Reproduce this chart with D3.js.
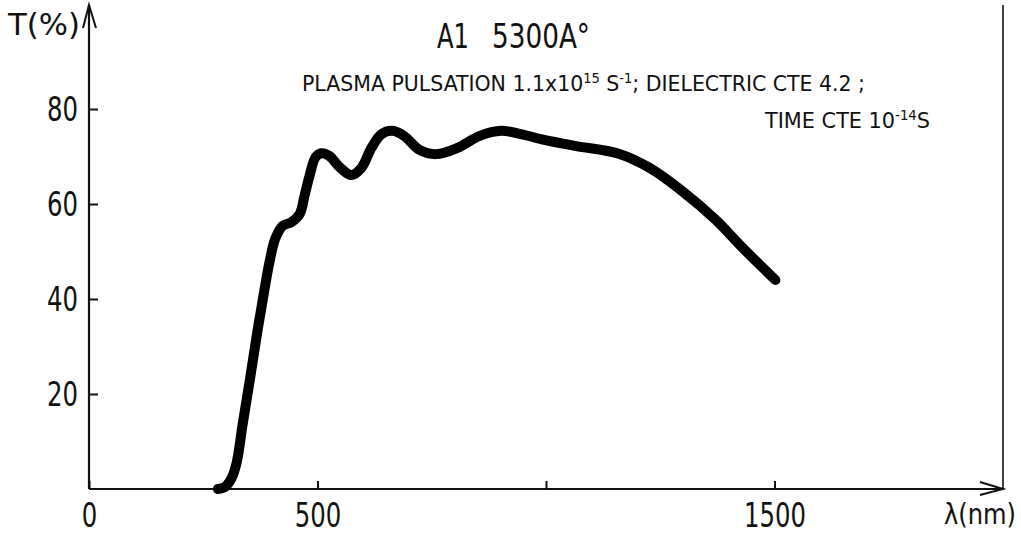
<!DOCTYPE html>
<html>
<head>
<meta charset="utf-8">
<script src="https://cdn.jsdelivr.net/npm/d3@7"></script>
<style>
  html, body { margin: 0; padding: 0; background: #fff; }
  svg { display: block; }
  text { font-family: "Liberation Sans Narrow", "DejaVu Sans Condensed", "Roboto", sans-serif; fill: #111; }
</style>
</head>
<body>
<svg id="chart" width="1021" height="534"></svg>
<script>
// ---- data ----
const wavelength = [282, 297, 312, 323, 336, 352, 369, 384, 395, 408, 424, 443, 461, 472, 483, 496, 509, 526, 548, 574, 596, 618, 640, 664, 690, 723, 760, 806, 854, 902, 945, 996, 1066, 1159, 1225, 1297, 1371, 1428, 1502];
const transmission = [0, 0.4, 2.3, 5.5, 13.5, 23, 33.5, 42, 47.8, 52.8, 55.4, 56.2, 57.9, 61.9, 66.1, 69.9, 70.7, 70.1, 67.8, 66.1, 67.6, 71.8, 74.7, 75.4, 74.3, 71.4, 70.5, 71.8, 74.3, 75.4, 74.7, 73.5, 72.2, 70.6, 67.7, 62.8, 56.7, 51.0, 44.0];
const xTickValues = [0, 500, 1000, 1500];
const xTickLabels = ["0", "500", "", "1500"];
const yTickValues = [20, 40, 60, 80];
const yTickLabels = ["20", "40", "60", "80"];
const titleText = ["A1", "5300A°"];

// ---- layout ----
const svg = d3.select("#chart");
const x = d3.scaleLinear().domain([0, 2000]).range([89, 1003]);
const y = d3.scaleLinear().domain([0, 100]).range([489, 14]);
const ink = "#111";
const digitW = 15.5;

// axes lines
svg.append("line").attr("x1", x(0)).attr("x2", x(2000)).attr("y1", y(0)).attr("y2", y(0))
  .attr("stroke", ink).attr("stroke-width", 2.2);
svg.append("line").attr("x1", x(0)).attr("x2", x(0)).attr("y1", y(0)).attr("y2", 5)
  .attr("stroke", ink).attr("stroke-width", 2.2);
// right frame line
svg.append("line").attr("x1", x(2000)).attr("x2", x(2000)).attr("y1", y(0) + 1).attr("y2", 5)
  .attr("stroke", ink).attr("stroke-width", 1.6);
// arrowheads
svg.append("path").attr("d", `M${x(0)-6},28 L${x(0)},5 L${x(0)+7},28`)
  .attr("fill", "none").attr("stroke", ink).attr("stroke-width", 2);
svg.append("path").attr("d", `M${x(2000)-23},482 L${x(2000)},${y(0)} L${x(2000)-23},495`)
  .attr("fill", "none").attr("stroke", ink).attr("stroke-width", 2);

// y axis ticks (pointing right) with labels on the left
const yAxis = d3.axisLeft(y).tickValues(yTickValues)
  .tickFormat((d, i) => yTickLabels[i]).tickSize(-9).tickPadding(11);
const gy = svg.append("g").attr("transform", `translate(${x(0)},0)`).call(yAxis);
gy.select(".domain").remove();
gy.selectAll(".tick line").attr("stroke", ink).attr("stroke-width", 2);
gy.selectAll(".tick text").attr("font-size", 33).attr("dy", "0.36em")
  .attr("textLength", (d, i) => yTickLabels[i].length * digitW).attr("lengthAdjust", "spacingAndGlyphs")
  .style("font-family", '"Liberation Sans Narrow", "DejaVu Sans Condensed", sans-serif').attr("fill", ink);

// x axis ticks (pointing up) with labels below
const xAxis = d3.axisBottom(x).tickValues(xTickValues)
  .tickFormat((d, i) => xTickLabels[i]).tickSize(-8).tickPadding(0);
const gx = svg.append("g").attr("transform", `translate(0,${y(0)})`).call(xAxis);
gx.select(".domain").remove();
gx.selectAll(".tick line").attr("stroke", ink).attr("stroke-width", 2);
gx.selectAll(".tick text").attr("font-size", 33).attr("y", 38).attr("dy", 0)
  .attr("textLength", (d, i) => Math.max(1, xTickLabels[i].length) * digitW).attr("lengthAdjust", "spacingAndGlyphs")
  .style("font-family", '"Liberation Sans Narrow", "DejaVu Sans Condensed", sans-serif').attr("fill", ink);

// axis titles
svg.append("text").attr("x", 8).attr("y", 35).attr("font-size", 31).attr("textLength", 72).attr("lengthAdjust", "spacingAndGlyphs").text("T(%)");
svg.append("text").attr("x", 1016).attr("y", 524).attr("font-size", 29).attr("text-anchor", "end").attr("textLength", 72).attr("lengthAdjust", "spacingAndGlyphs").text("λ(nm)");

// title
svg.append("text").attr("x", 437).attr("y", 48).attr("font-size", 34).attr("textLength", 32).attr("lengthAdjust", "spacingAndGlyphs").text(titleText[0]);
svg.append("text").attr("x", 492).attr("y", 48).attr("font-size", 34).attr("textLength", 98).attr("lengthAdjust", "spacingAndGlyphs").text(titleText[1]);

// subtitle line 1
const s1 = svg.append("text").attr("x", 302).attr("y", 91).attr("font-size", 22);
s1.append("tspan").text("PLASMA  PULSATION 1.1x10");
s1.append("tspan").attr("dy", -8).attr("font-size", 14).text("15");
s1.append("tspan").attr("dy", 8).text(" S");
s1.append("tspan").attr("dy", -8).attr("font-size", 14).text("-1");
s1.append("tspan").attr("dy", 8).text("; DIELECTRIC CTE 4.2 ;");
s1.attr("textLength", 563).attr("lengthAdjust", "spacingAndGlyphs");

// subtitle line 2
const s2 = svg.append("text").attr("x", 765).attr("y", 128).attr("font-size", 22);
s2.append("tspan").text("TIME CTE 10");
s2.append("tspan").attr("dy", -8).attr("font-size", 14).text("-14");
s2.append("tspan").attr("dy", 8).text("S");
s2.attr("textLength", 165).attr("lengthAdjust", "spacingAndGlyphs");

// curve
const pts = wavelength.map((w, i) => [w, transmission[i]]);
const line = d3.line().x(d => x(d[0])).y(d => y(d[1])).curve(d3.curveCatmullRom.alpha(0.5));
svg.append("path").datum(pts).attr("d", line)
  .attr("fill", "none").attr("stroke", "#000").attr("stroke-width", 10)
  .attr("stroke-linecap", "round").attr("stroke-linejoin", "round");
</script>
</body>
</html>
